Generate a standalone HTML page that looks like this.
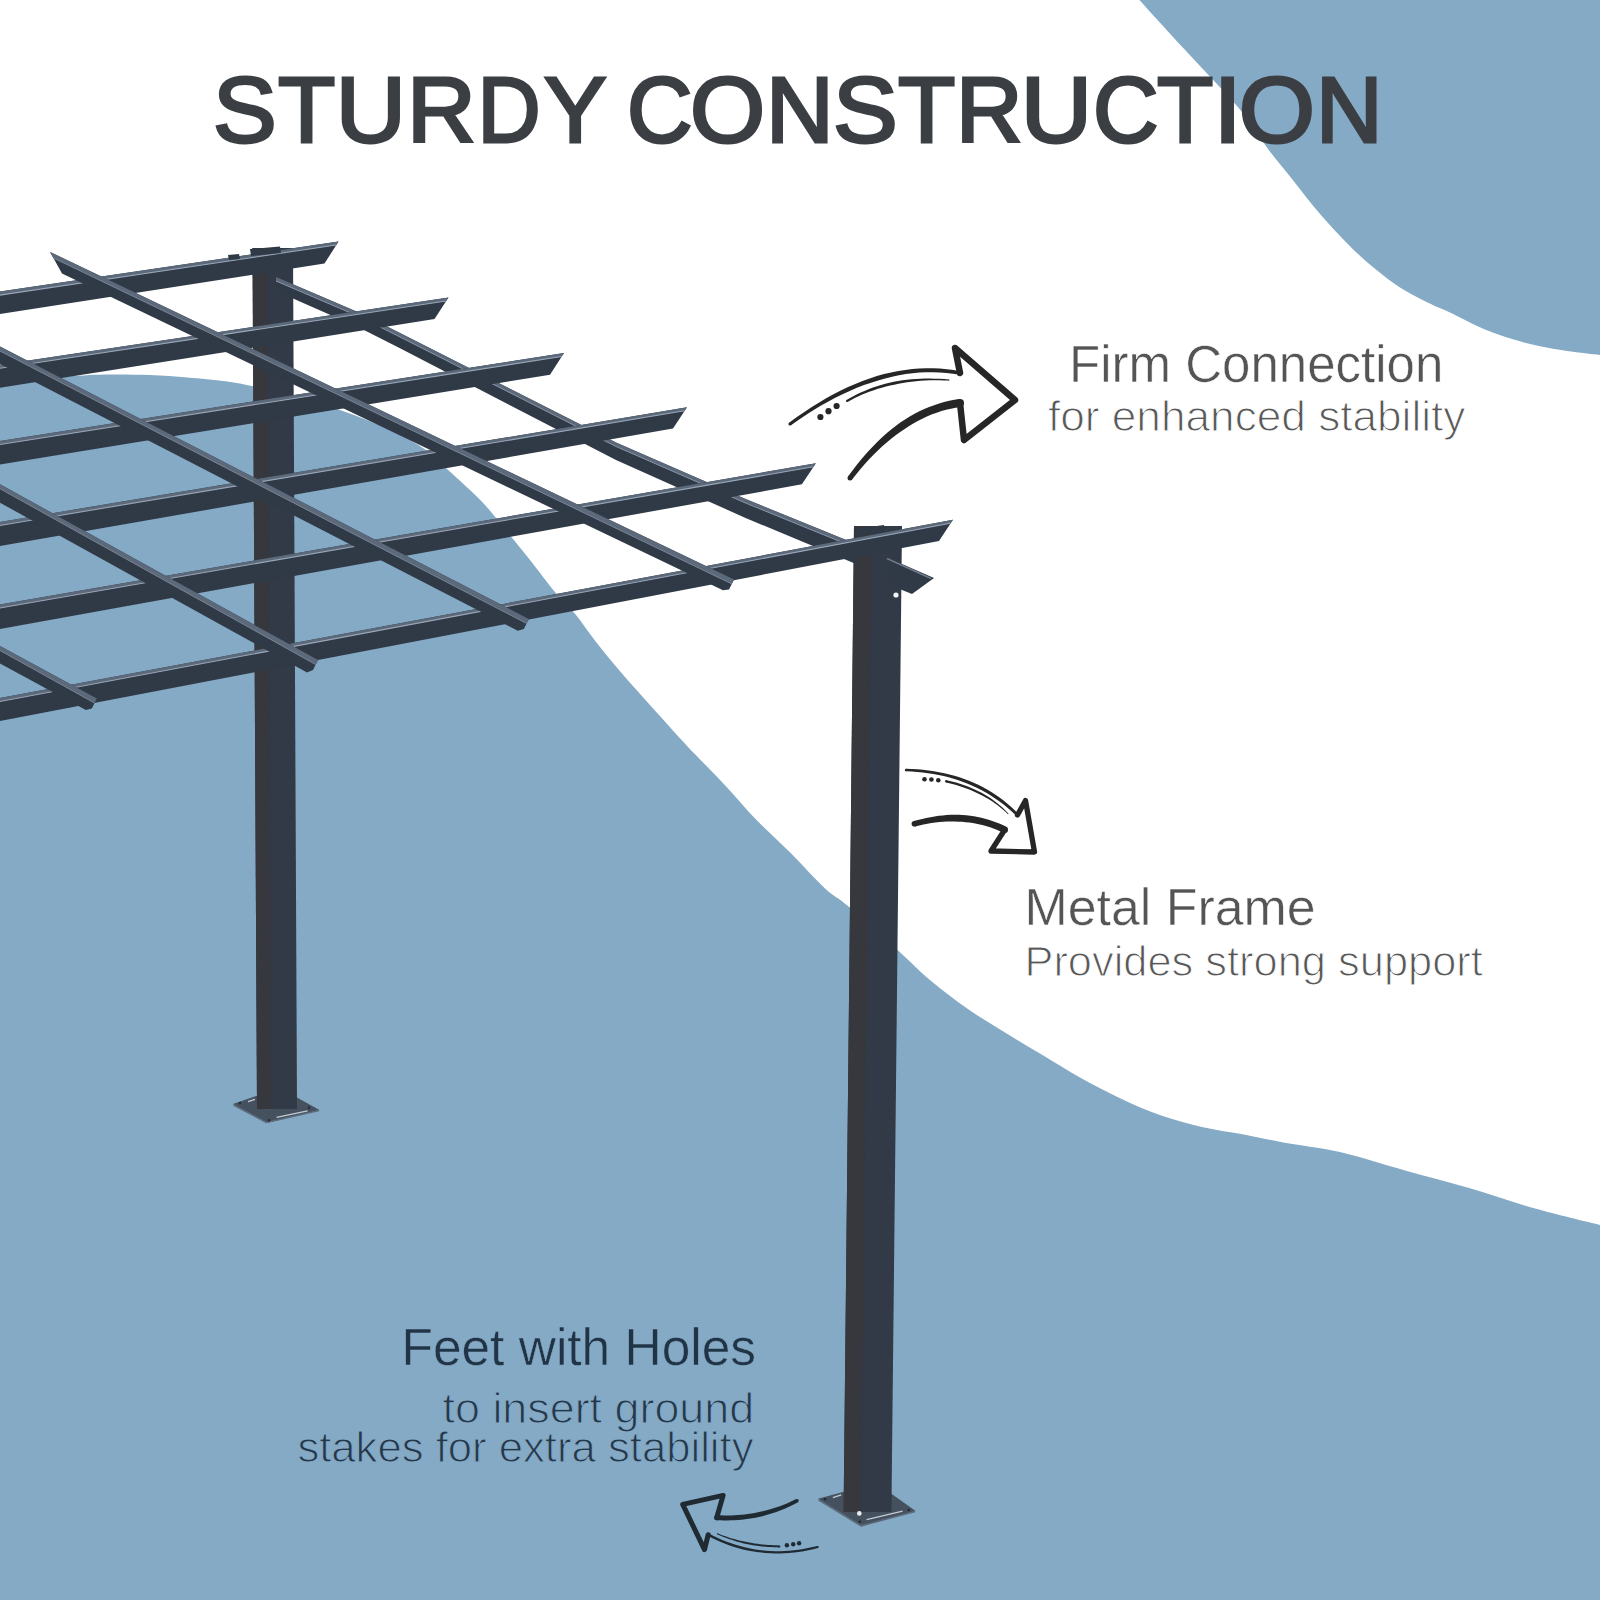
<!DOCTYPE html>
<html><head><meta charset="utf-8">
<style>
html,body{margin:0;padding:0;background:#ffffff;}
body{width:1600px;height:1600px;overflow:hidden;}
svg{display:block;}
</style></head>
<body>
<svg width="1600" height="1600" viewBox="0 0 1600 1600">
<rect width="1600" height="1600" fill="#ffffff"/>
<path d="M1139.4,0.0 C1144.1,5.1 1156.6,19.0 1167.5,30.9 C1178.4,42.8 1192.5,57.6 1205.0,71.2 C1217.5,84.8 1231.9,99.4 1242.5,112.5 C1253.1,125.6 1260.2,138.5 1268.8,150.0 C1277.3,161.5 1285.4,170.8 1293.8,181.2 C1302.1,191.7 1309.4,201.7 1318.8,212.5 C1328.1,223.3 1340.6,236.9 1350.0,246.2 C1359.4,255.6 1366.7,261.9 1375.0,268.8 C1383.3,275.6 1391.7,282.1 1400.0,287.5 C1408.3,292.9 1416.7,297.1 1425.0,301.2 C1433.3,305.4 1439.6,307.6 1450.0,312.5 C1460.4,317.4 1475.0,325.6 1487.5,330.6 C1500.0,335.7 1512.5,339.5 1525.0,342.8 C1537.5,346.1 1550.0,348.3 1562.5,350.3 C1575.0,352.3 1593.8,354.2 1600.0,355.0 L1600,0 Z" fill="#85aac6"/>
<path d="M-2.0,378.0 C8.5,377.8 43.2,377.1 61.0,376.5 C78.8,375.9 90.2,374.8 105.0,374.5 C119.8,374.2 136.2,374.5 150.0,375.0 C163.8,375.5 175.0,376.5 187.5,377.5 C200.0,378.5 214.2,379.8 225.0,381.2 C235.8,382.7 240.7,383.5 252.0,386.0 C263.3,388.5 278.3,392.0 293.0,396.0 C307.7,400.0 323.8,404.3 340.0,410.0 C356.2,415.7 375.7,423.3 390.0,430.0 C404.3,436.7 416.5,443.5 426.0,450.0 C435.5,456.5 439.7,462.3 447.0,469.0 C454.3,475.7 463.7,484.0 470.0,490.0 C476.3,496.0 480.7,500.3 485.0,505.0 C489.3,509.7 491.3,512.3 496.0,518.0 C500.7,523.7 507.3,532.0 513.0,539.0 C518.7,546.0 523.0,551.2 530.0,560.0 C537.0,568.8 547.5,583.0 555.0,592.0 C562.5,601.0 568.2,605.4 575.0,613.8 C581.8,622.1 588.7,632.6 596.0,642.0 C603.3,651.4 611.5,661.2 619.0,670.0 C626.5,678.8 633.5,686.6 641.0,695.0 C648.5,703.4 656.2,711.9 664.0,720.6 C671.8,729.3 678.0,736.5 688.0,747.0 C698.0,757.5 712.2,771.6 723.8,783.9 C735.3,796.2 746.2,809.4 757.5,821.0 C768.8,832.6 780.0,842.4 791.2,853.6 C802.5,864.9 815.4,879.7 825.0,888.5 C834.6,897.3 836.5,896.2 848.6,906.5 C860.7,916.8 883.9,937.8 897.5,950.0 C911.1,962.2 918.3,970.2 930.0,980.0 C941.7,989.8 955.0,1000.0 967.5,1008.8 C980.0,1017.5 992.5,1024.8 1005.0,1032.5 C1017.5,1040.2 1030.0,1047.5 1042.5,1055.0 C1055.0,1062.5 1067.0,1070.2 1080.0,1077.5 C1093.0,1084.8 1107.1,1092.2 1120.6,1098.5 C1134.1,1104.8 1147.7,1110.9 1161.2,1115.6 C1174.8,1120.3 1188.4,1123.8 1201.9,1126.9 C1215.4,1130.0 1229.0,1131.7 1242.5,1134.2 C1256.0,1136.8 1266.8,1139.4 1283.1,1142.4 C1299.3,1145.4 1319.7,1147.3 1340.0,1152.0 C1360.3,1156.7 1383.3,1164.4 1405.0,1170.4 C1426.7,1176.4 1448.3,1181.9 1470.0,1188.2 C1491.7,1194.6 1513.0,1202.4 1535.0,1208.6 C1557.0,1214.8 1590.8,1222.7 1602.0,1225.5 L1602,1602 L-2,1602 Z" fill="#85aac6"/>
<polygon points="233,1104 256,1096 297,1097.6 319.4,1110 266.5,1123" fill="#45515f"/>
<polyline points="233.5,1105 266.5,1122.5 319,1110.5" fill="none" stroke="#5d6a7a" stroke-width="1.6"/>
<line x1="276.6" y1="1117.3" x2="307.6" y2="1110.8" stroke="#c3cbd4" stroke-width="1.3"/>
<line x1="248" y1="1101.6" x2="255" y2="1099.4" stroke="#c3cbd4" stroke-width="1.3"/>
<g fill="#232a33"><circle cx="240" cy="1103" r="1.2"/><circle cx="269" cy="1120.2" r="1.2"/><circle cx="309" cy="1107.7" r="1.2"/></g>
<polygon points="252.5,248.0 293.0,248.0 297.0,1109.0 257.0,1109.0" fill="#313a46"/><polygon points="252.5,248.0 267.1,248.0 271.4,1109.0 257.0,1109.0" fill="#36383d"/>
<polygon points="818,1498.7 843,1492 891.4,1493.7 915.6,1511 861,1526.3" fill="#45515f"/>
<polyline points="818.5,1499.7 861,1525.8 915,1511.5" fill="none" stroke="#5d6a7a" stroke-width="1.6"/>
<line x1="866.6" y1="1519.6" x2="902.6" y2="1511.1" stroke="#c3cbd4" stroke-width="1.4"/>
<line x1="832.9" y1="1497.6" x2="841.3" y2="1494.8" stroke="#c3cbd4" stroke-width="1.4"/>
<g fill="#232a33"><circle cx="825" cy="1499.3" r="1.3"/><circle cx="859.9" cy="1521.8" r="1.3"/><circle cx="908.8" cy="1510" r="1.3"/></g>
<polygon points="854.0,526.0 902.0,526.0 891.4,1512.0 843.6,1512.0" fill="#313a46"/><polygon points="854.0,526.0 871.3,526.0 860.8,1512.0 843.6,1512.0" fill="#36383d"/>
<polygon points="276.0,277.0 360.0,313.0 400.0,333.0 616.0,442.5 745.0,498.8 856.0,544.0 856.0,564.0 745.0,517.7 616.0,460.0 400.0,348.3 360.0,327.9 276.0,291.0" fill="#303a46"/>
<polygon points="276.0,277.0 360.0,313.0 400.0,333.0 616.0,442.5 745.0,498.8 856.0,544.0 856.0,548.0 745.0,502.8 616.0,446.5 400.0,337.0 360.0,317.0 276.0,281.0" fill="#5b697a"/>
<polyline points="276.0,281.0 360.0,317.0 400.0,337.0 616.0,446.5 745.0,502.8 856.0,548.0" fill="none" stroke="#8795a6" stroke-width="1"/>
<polygon points="886,557 934,578 912,594 902,590 890,584" fill="#303a46"/>
<line x1="887" y1="558.5" x2="931" y2="578.5" stroke="#6d7a8b" stroke-width="1.4"/>
<polygon points="-2.0,291.9 338.5,241.5 324.5,263.6 -2.0,314.4" fill="#303a46"/><polygon points="-2.0,291.9 338.5,241.5 336.1,245.0 -2.0,295.4" fill="#5b697a"/><line x1="-2" y1="295.4" x2="336.1" y2="245.0" stroke="#9aa7b8" stroke-width="1.1"/>
<polygon points="-2.0,365.1 448.5,297.5 434.5,319.1 -2.0,388.1" fill="#303a46"/><polygon points="-2.0,365.1 448.5,297.5 446.0,301.0 -2.0,368.6" fill="#5b697a"/><line x1="-2" y1="368.6" x2="446.0" y2="301.0" stroke="#9aa7b8" stroke-width="1.1"/>
<polygon points="-2.0,441.3 564.0,353.0 550.0,374.7 -2.0,464.8" fill="#303a46"/><polygon points="-2.0,441.3 564.0,353.0 561.5,356.5 -2.0,444.8" fill="#5b697a"/><line x1="-2" y1="444.8" x2="561.5" y2="356.5" stroke="#9aa7b8" stroke-width="1.1"/>
<polygon points="-2.0,522.3 687.0,407.3 673.0,428.6 -2.0,546.3" fill="#303a46"/><polygon points="-2.0,522.3 687.0,407.3 684.4,410.8 -2.0,525.8" fill="#5b697a"/><line x1="-2" y1="525.8" x2="684.4" y2="410.8" stroke="#9aa7b8" stroke-width="1.1"/>
<polygon points="-2.0,604.8 815.9,463.3 801.9,484.3 -2.0,629.3" fill="#303a46"/><polygon points="-2.0,604.8 815.9,463.3 813.3,466.8 -2.0,608.3" fill="#5b697a"/><line x1="-2" y1="608.3" x2="813.3" y2="466.8" stroke="#9aa7b8" stroke-width="1.1"/>
<polygon points="-2.0,698.4 953.0,519.8 939.0,540.9 -2.0,721.4" fill="#303a46"/><polygon points="-2.0,698.4 953.0,519.8 950.4,523.3 -2.0,701.9" fill="#5b697a"/><line x1="-2" y1="701.9" x2="950.4" y2="523.3" stroke="#9aa7b8" stroke-width="1.1"/>
<polygon points="50.0,251.9 734.0,579.4 729.0,589.4 723.0,590.2 62.0,273.6" fill="#303a46"/><polygon points="50.0,251.9 734.0,579.4 731.8,583.9 53.4,258.0" fill="#5b697a"/><line x1="53.4" y1="258.0" x2="731.8" y2="583.9" stroke="#7d8a9a" stroke-width="0.9"/>
<polygon points="-2.0,345.5 528.8,618.9 523.8,628.9 517.8,630.8 -2.0,363.0" fill="#303a46"/><polygon points="-2.0,345.5 528.8,618.9 526.5,623.4 -2.0,350.0" fill="#5b697a"/><line x1="-2.0" y1="350.0" x2="526.5" y2="623.4" stroke="#7d8a9a" stroke-width="0.9"/>
<polygon points="-2.0,483.1 318.0,660.1 313.0,670.1 307.0,672.5 -2.0,501.6" fill="#303a46"/><polygon points="-2.0,483.1 318.0,660.1 315.8,664.6 -2.0,487.6" fill="#5b697a"/><line x1="-2.0" y1="487.6" x2="315.8" y2="664.6" stroke="#7d8a9a" stroke-width="0.9"/>
<polygon points="-2.0,644.9 96.8,698.5 91.8,708.5 85.8,710.0 -2.0,662.4" fill="#303a46"/><polygon points="-2.0,644.9 96.8,698.5 94.5,703.0 -2.0,649.4" fill="#5b697a"/><line x1="-2.0" y1="649.4" x2="94.5" y2="703.0" stroke="#7d8a9a" stroke-width="0.9"/>
<polygon points="250,249 280,246.5 281,253 251,256" fill="#303a46"/>
<polygon points="228,255 239,254 240,259 229,260" fill="#303a46"/>
<polygon points="855,529 884,525 885,532 856,536" fill="#303a46"/>
<circle cx="859.3" cy="1513.4" r="2.3" fill="#e8ecf0"/>
<circle cx="896" cy="595" r="2.6" fill="#f4f6f8"/>
<g fill="#262626"><path d="M790.95,425.29 L798.43,420.00 L805.88,414.99 L813.29,410.27 L820.66,405.83 L827.99,401.67 L835.28,397.79 L842.53,394.20 L849.74,390.88 L856.90,387.85 L864.03,385.11 L871.12,382.64 L878.16,380.45 L885.14,378.45 L892.08,376.73 L898.99,375.28 L905.86,374.11 L912.70,373.22 L919.51,372.61 L926.28,372.27 L933.02,372.22 L939.73,372.44 L946.41,372.94 L953.05,373.71 L959.67,374.77 L960.33,371.23 L953.58,370.07 L946.79,369.19 L939.96,368.59 L933.09,368.28 L926.19,368.26 L919.24,368.52 L912.27,369.06 L905.25,369.89 L898.20,371.00 L891.12,372.40 L883.99,374.08 L876.84,376.05 L869.68,378.39 L862.50,381.02 L855.28,383.93 L848.04,387.12 L840.77,390.58 L833.47,394.33 L826.14,398.36 L818.79,402.67 L811.40,407.26 L803.98,412.13 L796.53,417.28 L789.05,422.71 Z"/><circle cx="790" cy="424" r="1.60"/><circle cx="960" cy="373" r="1.80"/><path d="M959.47,399.04 L954.33,399.84 L949.22,400.85 L944.15,402.08 L939.12,403.51 L934.13,405.16 L929.17,407.01 L924.26,409.08 L919.39,411.35 L914.55,413.84 L909.76,416.53 L905.01,419.42 L900.30,422.53 L895.70,425.92 L891.14,429.52 L886.63,433.32 L882.17,437.32 L877.74,441.52 L873.37,445.92 L869.03,450.52 L864.74,455.32 L860.49,460.31 L856.29,465.51 L852.12,470.91 L848.00,476.50 L852.00,479.50 L856.25,474.13 L860.52,468.97 L864.82,464.03 L869.15,459.29 L873.50,454.77 L877.88,450.46 L882.29,446.35 L886.72,442.46 L891.18,438.77 L895.66,435.30 L900.17,432.03 L904.70,428.97 L909.19,426.03 L913.71,423.29 L918.26,420.76 L922.84,418.42 L927.44,416.29 L932.08,414.36 L936.74,412.63 L941.44,411.10 L946.16,409.77 L950.92,408.63 L955.71,407.70 L960.53,406.96 Z"/><circle cx="960" cy="403" r="4.00"/><circle cx="850" cy="478" r="2.50"/><path d="M847.55,401.95 L851.15,399.96 L854.81,398.07 L858.51,396.29 L862.28,394.60 L866.09,393.01 L869.96,391.53 L873.88,390.14 L877.86,388.86 L881.89,387.67 L885.97,386.59 L890.11,385.60 L894.30,384.72 L898.53,383.83 L902.82,383.04 L907.16,382.34 L911.57,381.75 L916.04,381.25 L920.56,380.86 L925.15,380.57 L929.79,380.37 L934.49,380.28 L939.26,380.28 L944.08,380.39 L948.96,380.60 L949.04,379.40 L944.14,379.04 L939.30,378.79 L934.51,378.63 L929.76,378.57 L925.08,378.62 L920.44,378.76 L915.85,379.01 L911.32,379.36 L906.84,379.81 L902.41,380.37 L898.03,381.02 L893.70,381.78 L889.45,382.75 L885.25,383.81 L881.11,384.98 L877.03,386.25 L873.01,387.62 L869.04,389.10 L865.13,390.67 L861.28,392.34 L857.49,394.12 L853.75,396.00 L850.07,397.97 L846.45,400.05 Z"/><circle cx="847" cy="401" r="1.10"/><circle cx="949" cy="380" r="0.60"/><circle cx="820.4" cy="417" r="3.1"/><circle cx="828.5" cy="411.2" r="3.1"/><circle cx="836.6" cy="406" r="3.1"/></g><path d="M960,373 L955,348 L1015,400 L964,440 L960,403" fill="none" stroke="#262626" stroke-width="6.5" stroke-linecap="round" stroke-linejoin="round"/><g fill="#262626"><path d="M905.97,771.20 L911.64,771.48 L917.21,771.90 L922.69,772.46 L928.08,773.16 L933.37,774.00 L938.56,774.99 L943.66,776.11 L948.67,777.37 L953.58,778.78 L958.39,780.32 L963.11,782.00 L967.74,783.83 L972.29,785.74 L976.76,787.78 L981.13,789.98 L985.41,792.31 L989.60,794.78 L993.71,797.39 L997.72,800.15 L1001.64,803.05 L1005.47,806.09 L1009.22,809.27 L1012.87,812.59 L1016.43,816.05 L1018.57,813.95 L1014.96,810.39 L1011.25,806.97 L1007.45,803.70 L1003.55,800.56 L999.56,797.58 L995.48,794.73 L991.30,792.03 L987.03,789.47 L982.67,787.06 L978.21,784.78 L973.66,782.66 L969.01,780.67 L964.25,778.89 L959.40,777.25 L954.47,775.75 L949.44,774.41 L944.33,773.20 L939.12,772.14 L933.83,771.22 L928.45,770.45 L922.98,769.82 L917.42,769.34 L911.77,769.00 L906.03,768.80 Z"/><circle cx="906" cy="770" r="1.20"/><circle cx="1017.5" cy="815" r="1.50"/><path d="M1006.17,826.74 L1002.75,825.10 L999.29,823.57 L995.79,822.16 L992.25,820.88 L988.67,819.71 L985.05,818.66 L981.39,817.73 L977.69,816.92 L973.95,816.23 L970.17,815.66 L966.36,815.21 L962.50,814.88 L958.61,814.75 L954.69,814.73 L950.73,814.84 L946.74,815.06 L942.72,815.40 L938.66,815.86 L934.58,816.44 L930.46,817.14 L926.31,817.95 L922.13,818.89 L917.91,819.93 L913.66,821.10 L915.14,826.50 L919.28,825.48 L923.39,824.58 L927.45,823.79 L931.47,823.12 L935.44,822.57 L939.37,822.12 L943.26,821.80 L947.11,821.58 L950.91,821.48 L954.66,821.50 L958.38,821.63 L962.05,821.87 L965.68,822.15 L969.28,822.54 L972.84,823.04 L976.36,823.66 L979.84,824.39 L983.29,825.23 L986.70,826.18 L990.08,827.25 L993.42,828.43 L996.73,829.73 L1000.00,831.13 L1003.23,832.66 Z"/><circle cx="1004.7" cy="829.7" r="3.30"/><circle cx="914.4" cy="823.8" r="2.80"/><path d="M946.04,782.47 L949.21,783.21 L952.34,784.00 L955.40,784.84 L958.42,785.73 L961.38,786.67 L964.28,787.67 L967.13,788.72 L969.93,789.82 L972.67,790.97 L975.35,792.17 L977.99,793.42 L980.56,794.72 L983.11,796.04 L985.60,797.41 L988.04,798.83 L990.43,800.30 L992.77,801.83 L995.06,803.41 L997.29,805.04 L999.47,806.73 L1001.60,808.47 L1003.68,810.26 L1005.70,812.11 L1007.68,814.01 L1008.32,813.39 L1006.41,811.39 L1004.44,809.44 L1002.41,807.55 L1000.32,805.70 L998.18,803.91 L995.98,802.16 L993.72,800.47 L991.41,798.83 L989.04,797.24 L986.61,795.70 L984.13,794.21 L981.59,792.78 L978.97,791.43 L976.30,790.14 L973.57,788.90 L970.78,787.72 L967.95,786.58 L965.06,785.50 L962.11,784.48 L959.11,783.50 L956.05,782.58 L952.95,781.71 L949.78,780.89 L946.56,780.13 Z"/><circle cx="946.3" cy="781.3" r="1.20"/><circle cx="1008" cy="813.7" r="0.45"/><circle cx="924.5" cy="779.2" r="2.3"/><circle cx="931.4" cy="779.5" r="2.3"/><circle cx="938.3" cy="780.3" r="2.3"/></g><path d="M1017.5,815 L1025.5,800.5 L1034.5,852 L991,851 L1004.7,829.7" fill="none" stroke="#262626" stroke-width="5.3" stroke-linecap="round" stroke-linejoin="round"/><g fill="#1f2a33"><path d="M796.17,1499.10 L793.09,1500.61 L789.99,1502.04 L786.87,1503.40 L783.73,1504.68 L780.57,1505.89 L777.39,1507.02 L774.20,1508.08 L770.98,1509.07 L767.75,1509.97 L764.49,1510.81 L761.22,1511.57 L757.93,1512.25 L754.62,1512.90 L751.30,1513.48 L747.95,1513.99 L744.58,1514.42 L741.19,1514.77 L737.77,1515.06 L734.34,1515.27 L730.88,1515.40 L727.40,1515.46 L723.90,1515.45 L720.38,1515.36 L716.83,1515.20 L716.57,1520.20 L720.22,1520.34 L723.84,1520.42 L727.45,1520.41 L731.03,1520.33 L734.60,1520.18 L738.14,1519.94 L741.66,1519.63 L745.15,1519.25 L748.63,1518.79 L752.08,1518.25 L755.51,1517.64 L758.92,1516.95 L762.30,1516.14 L765.65,1515.26 L768.98,1514.30 L772.28,1513.27 L775.56,1512.16 L778.82,1510.98 L782.05,1509.72 L785.25,1508.38 L788.44,1506.97 L791.59,1505.49 L794.72,1503.93 L797.83,1502.30 Z"/><circle cx="797" cy="1500.7" r="1.80"/><circle cx="716.7" cy="1517.7" r="2.50"/><path d="M707.59,1535.85 L711.96,1538.06 L716.34,1540.12 L720.75,1542.04 L725.18,1543.81 L729.63,1545.43 L734.09,1546.90 L738.58,1548.22 L743.09,1549.40 L747.63,1550.42 L752.18,1551.30 L756.75,1552.03 L761.34,1552.62 L765.95,1553.05 L770.58,1553.34 L775.24,1553.48 L779.91,1553.47 L784.60,1553.31 L789.31,1553.00 L794.04,1552.55 L798.79,1551.95 L803.56,1551.20 L808.34,1550.30 L813.15,1549.26 L817.98,1548.06 L817.42,1545.94 L812.65,1547.10 L807.90,1548.11 L803.18,1548.98 L798.47,1549.70 L793.79,1550.28 L789.13,1550.71 L784.49,1550.99 L779.87,1551.13 L775.27,1551.13 L770.70,1550.97 L766.14,1550.68 L761.61,1550.23 L757.10,1549.64 L752.60,1548.91 L748.13,1548.03 L743.68,1547.00 L739.25,1545.83 L734.84,1544.51 L730.45,1543.05 L726.08,1541.44 L721.73,1539.69 L717.41,1537.79 L713.10,1535.74 L708.81,1533.55 Z"/><circle cx="708.2" cy="1534.7" r="1.30"/><circle cx="817.7" cy="1547" r="1.10"/><path d="M717.10,1534.16 L719.41,1535.20 L721.75,1536.21 L724.11,1537.17 L726.49,1538.10 L728.91,1538.98 L731.34,1539.82 L733.80,1540.62 L736.29,1541.38 L738.80,1542.10 L741.33,1542.78 L743.89,1543.41 L746.47,1544.00 L749.09,1544.52 L751.73,1544.99 L754.39,1545.42 L757.08,1545.80 L759.78,1546.15 L762.52,1546.45 L765.27,1546.71 L768.05,1546.93 L770.85,1547.11 L773.67,1547.25 L776.52,1547.35 L779.39,1547.40 L779.41,1545.40 L776.57,1545.35 L773.75,1545.25 L770.96,1545.12 L768.19,1544.94 L765.44,1544.72 L762.72,1544.46 L760.02,1544.16 L757.35,1543.82 L754.69,1543.44 L752.06,1543.01 L749.46,1542.55 L746.88,1542.05 L744.31,1541.54 L741.76,1540.99 L739.24,1540.40 L736.73,1539.77 L734.25,1539.10 L731.80,1538.39 L729.36,1537.64 L726.94,1536.84 L724.55,1536.00 L722.18,1535.13 L719.83,1534.21 L717.50,1533.24 Z"/><circle cx="717.3" cy="1533.7" r="0.50"/><circle cx="779.4" cy="1546.4" r="1.00"/><circle cx="786.9" cy="1545.3" r="2.2"/><circle cx="793.2" cy="1544.3" r="2.2"/><circle cx="799.1" cy="1543.2" r="2.2"/></g><path d="M716.7,1517.7 L723.1,1495.4 L682.7,1504.4 L704.5,1549.6 L708.2,1534.7" fill="none" stroke="#1f2a33" stroke-width="5.0" stroke-linecap="round" stroke-linejoin="round"/>
<text transform="translate(212.95,142.01) scale(1.0175,0.9926)" x="0" y="0" font-family='"Liberation Sans", sans-serif' font-size="93.75" fill="#3b3e42" stroke="#3b3e42" stroke-width="3">S</text>
<text transform="translate(278.00,142.01) scale(1.0000,0.9926)" x="0" y="0" font-family='"Liberation Sans", sans-serif' font-size="93.75" fill="#3b3e42" stroke="#3b3e42" stroke-width="3">T</text>
<text transform="translate(335.79,142.01) scale(1.0357,0.9926)" x="0" y="0" font-family='"Liberation Sans", sans-serif' font-size="93.75" fill="#3b3e42" stroke="#3b3e42" stroke-width="3">U</text>
<text transform="translate(406.90,142.01) scale(1.0169,0.9926)" x="0" y="0" font-family='"Liberation Sans", sans-serif' font-size="93.75" fill="#3b3e42" stroke="#3b3e42" stroke-width="3">R</text>
<text transform="translate(477.41,142.01) scale(0.9322,0.9926)" x="0" y="0" font-family='"Liberation Sans", sans-serif' font-size="93.75" fill="#3b3e42" stroke="#3b3e42" stroke-width="3">D</text>
<text transform="translate(544.00,142.01) scale(1.0000,0.9926)" x="0" y="0" font-family='"Liberation Sans", sans-serif' font-size="93.75" fill="#3b3e42" stroke="#3b3e42" stroke-width="3">Y</text>
<text transform="translate(627.10,142.01) scale(0.9683,0.9926)" x="0" y="0" font-family='"Liberation Sans", sans-serif' font-size="93.75" fill="#3b3e42" stroke="#3b3e42" stroke-width="3">C</text>
<text transform="translate(689.91,142.01) scale(1.0299,0.9926)" x="0" y="0" font-family='"Liberation Sans", sans-serif' font-size="93.75" fill="#3b3e42" stroke="#3b3e42" stroke-width="3">O</text>
<text transform="translate(766.00,142.01) scale(1.0000,0.9926)" x="0" y="0" font-family='"Liberation Sans", sans-serif' font-size="93.75" fill="#3b3e42" stroke="#3b3e42" stroke-width="3">N</text>
<text transform="translate(832.89,142.01) scale(1.0351,0.9926)" x="0" y="0" font-family='"Liberation Sans", sans-serif' font-size="93.75" fill="#3b3e42" stroke="#3b3e42" stroke-width="3">S</text>
<text transform="translate(898.00,142.01) scale(1.0000,0.9926)" x="0" y="0" font-family='"Liberation Sans", sans-serif' font-size="93.75" fill="#3b3e42" stroke="#3b3e42" stroke-width="3">T</text>
<text transform="translate(956.10,142.01) scale(0.9831,0.9926)" x="0" y="0" font-family='"Liberation Sans", sans-serif' font-size="93.75" fill="#3b3e42" stroke="#3b3e42" stroke-width="3">R</text>
<text transform="translate(1020.68,142.01) scale(1.0536,0.9926)" x="0" y="0" font-family='"Liberation Sans", sans-serif' font-size="93.75" fill="#3b3e42" stroke="#3b3e42" stroke-width="3">U</text>
<text transform="translate(1093.10,142.01) scale(0.9683,0.9926)" x="0" y="0" font-family='"Liberation Sans", sans-serif' font-size="93.75" fill="#3b3e42" stroke="#3b3e42" stroke-width="3">C</text>
<text transform="translate(1157.02,142.01) scale(0.9821,0.9926)" x="0" y="0" font-family='"Liberation Sans", sans-serif' font-size="93.75" fill="#3b3e42" stroke="#3b3e42" stroke-width="3">T</text>
<text transform="translate(1213.42,142.01) scale(1.0833,0.9926)" x="0" y="0" font-family='"Liberation Sans", sans-serif' font-size="93.75" fill="#3b3e42" stroke="#3b3e42" stroke-width="3">I</text>
<text transform="translate(1238.87,142.01) scale(1.0448,0.9926)" x="0" y="0" font-family='"Liberation Sans", sans-serif' font-size="93.75" fill="#3b3e42" stroke="#3b3e42" stroke-width="3">O</text>
<text transform="translate(1316.11,142.01) scale(0.9821,0.9926)" x="0" y="0" font-family='"Liberation Sans", sans-serif' font-size="93.75" fill="#3b3e42" stroke="#3b3e42" stroke-width="3">N</text>
<text transform="translate(1068.99,381.50) scale(1.0027,1)" x="0" y="0" font-family='"Liberation Sans", sans-serif' font-size="50.9" fill="#555555" stroke="#ffffff" stroke-width="0.5">Firm Connection</text>
<text transform="translate(1047.97,430.50) scale(1.0348,1)" x="0" y="0" font-family='"Liberation Sans", sans-serif' font-size="42.7" fill="#585858" stroke="#ffffff" stroke-width="1.1">for enhanced stability</text>
<text transform="translate(1024.42,924.80) scale(1.0197,1)" x="0" y="0" font-family='"Liberation Sans", sans-serif' font-size="50.9" fill="#555555" stroke="#ffffff" stroke-width="0.5">Metal Frame</text>
<text transform="translate(1024.43,975.80) scale(1.0168,1)" x="0" y="0" font-family='"Liberation Sans", sans-serif' font-size="42.7" fill="#585858" stroke="#ffffff" stroke-width="1.1">Provides strong support</text>
<text transform="translate(401.45,1365.00) scale(1.0113,1)" x="0" y="0" font-family='"Liberation Sans", sans-serif' font-size="50.9" fill="#213446" stroke="#85aac6" stroke-width="0.5">Feet with Holes</text>
<text transform="translate(442.55,1422.50) scale(1.0505,1)" x="0" y="0" font-family='"Liberation Sans", sans-serif' font-size="42.7" fill="#25384a" stroke="#85aac6" stroke-width="1.1">to insert ground</text>
<text transform="translate(297.38,1461.50) scale(1.0227,1)" x="0" y="0" font-family='"Liberation Sans", sans-serif' font-size="42.7" fill="#25384a" stroke="#85aac6" stroke-width="1.1">stakes for extra stability</text>
</svg>
</body></html>
